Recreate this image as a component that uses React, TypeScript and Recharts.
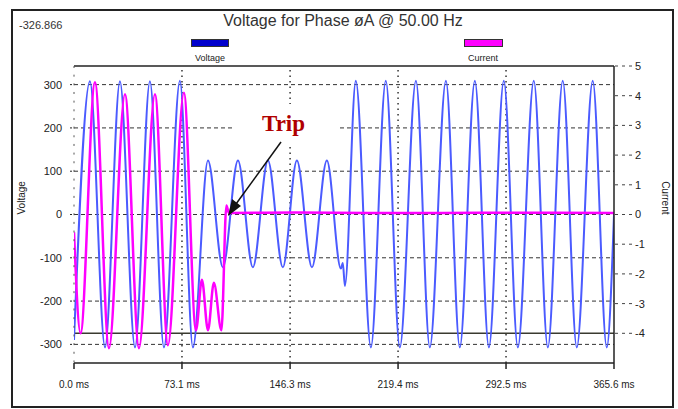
import { Line, LineChart, ReferenceLine, XAxis, YAxis } from "recharts";

// axis ticks
const timeTicks = [0, 73.1, 146.3, 219.4, 292.5, 365.6];
const voltageTicks = [-300, -200, -100, 0, 100, 200, 300];
const currentTicks = [-4, -3, -2, -1, 0, 1, 2, 3, 4, 5];

// voltage waveform, peaks and troughs (ms, V)
const voltageTime = [
  0, 10.8, 21.0, 31.1, 41.3, 51.4, 60.9, 71.7, 80.5, 90.7, 100.8, 111.0, 121.1, 131.3, 141.4,
  150.9, 161.1, 171.2, 180.7, 182.0, 183.4, 190.8, 201.0, 211.1, 220.6, 231.5, 240.9, 251.8,
  261.2, 271.4, 280.9, 291.0, 300.5, 311.3, 320.8, 330.9, 340.4, 351.2, 360.7, 365.6,
];
const voltageValue = [
  -290, 308, -307, 308, -307, 308, -307, 309, -307, 125, -122, 125, -122, 125, -122,
  125, -122, 125, -125, -112, -165, 309, -307, 309, -307, 309, -307, 309,
  -307, 309, -307, 309, -307, 309, -307, 309, -307, 309, -307, 0,
];

// current waveform (ms, A)
const currentTime = [
  0, 4.4, 14.2, 23.7, 34.5, 44.0, 54.8, 63.6, 74.4, 82.6, 86.6, 90.7, 94.7, 99.8, 103.2,
  104.9, 150, 200, 250, 300, 365.6,
];
const currentValue = [
  -0.6, -4.0, 4.45, -4.5, 4.05, -4.5, 4.05, -4.4, 4.1, -3.9, -2.2, -3.9, -2.3, -3.9, 0.3,
  0.05, 0.07, 0.05, 0.05, 0.06, 0.05,
];

const voltageData = voltageTime.map((t, i) => ({ t, v: voltageValue[i] }));
const currentData = currentTime.map((t, i) => ({ t, a: currentValue[i] }));

const font = "'Liberation Sans', Arial, sans-serif";
const ink = "#222";

export default function App() {
  return (
    <div
      style={{
        position: "absolute",
        left: 0,
        top: 0,
        width: 678,
        height: 409,
        background: "#fff",
        fontFamily: font,
        color: ink,
      }}
    >
      <div
        style={{
          position: "absolute",
          left: 11,
          top: 9,
          width: 659,
          height: 395,
          border: "2px solid #222",
        }}
      />
      <div style={{ position: "absolute", left: 19, top: 19, fontSize: 11, color: "#333" }}>-326.866</div>
      <div
        style={{
          position: "absolute",
          left: 0,
          width: 686,
          top: 12,
          textAlign: "center",
          fontSize: 16,
          color: "#333",
        }}
      >
        Voltage for Phase øA @ 50.00 Hz
      </div>

      {/* legend */}
      <div style={{ position: "absolute", left: 191, top: 39, width: 36, height: 6, background: "#0000cc", border: "1px solid #333" }} />
      <div style={{ position: "absolute", left: 180, width: 60, top: 53, textAlign: "center", fontSize: 9 }}>Voltage</div>
      <div style={{ position: "absolute", left: 464, top: 39, width: 37, height: 6, background: "#ff00ff", border: "1px solid #333" }} />
      <div style={{ position: "absolute", left: 453, width: 60, top: 53, textAlign: "center", fontSize: 9 }}>Current</div>

      <div style={{ position: "absolute", left: 0, top: 0 }}>
        <LineChart width={678} height={409} margin={{ top: 66, right: 24, bottom: 16, left: 34 }}>
          <XAxis
            xAxisId="x"
            type="number"
            dataKey="t"
            domain={[0, 365.6]}
            ticks={timeTicks}
            interval={0}
            allowDataOverflow
            tickFormatter={(v: number) => `${v.toFixed(1)} ms`}
            height={30}
            axisLine={{ stroke: ink, strokeWidth: 1.5 }}
            tickLine={{ stroke: ink, strokeWidth: 1.5 }}
            tickSize={6}
            tickMargin={12}
            tick={{ fontSize: 10, fill: ink, fontFamily: font }}
          />
          <YAxis
            yAxisId="v"
            domain={[-343, 343]}
            ticks={voltageTicks}
            interval={0}
            allowDataOverflow
            width={40}
            axisLine={{ stroke: "#555", strokeDasharray: "2 6.66" }}
            tickLine={{ stroke: ink, strokeDasharray: "2 2" }}
            tickSize={4}
            tickMargin={8}
            tick={{ fontSize: 11, fill: ink, fontFamily: font }}
            label={{ value: "Voltage", angle: -90, position: "insideLeft", offset: -13, fontSize: 10, fill: ink }}
          />
          <YAxis
            yAxisId="i"
            orientation="right"
            domain={[-5, 5]}
            ticks={currentTicks}
            interval={0}
            allowDataOverflow
            width={40}
            axisLine={{ stroke: ink, strokeWidth: 1.5 }}
            tickLine={{ stroke: "#444", strokeDasharray: "3 4" }}
            tickSize={18}
            tickMargin={3}
            tick={{ fontSize: 11, fill: ink, fontFamily: font }}
            label={{ value: "Current", angle: 90, position: "insideRight", offset: -12, fontSize: 10, fill: ink }}
          />

          {voltageTicks.map((v) => (
            <ReferenceLine key={`h${v}`} xAxisId="x" yAxisId="v" y={v} stroke="#333" strokeDasharray="4 3" />
          ))}
          {timeTicks.slice(1, -1).map((t) => (
            <ReferenceLine key={`v${t}`} xAxisId="x" yAxisId="v" x={t} stroke="#333" strokeDasharray="1.5 4" strokeWidth={1.5} />
          ))}
          <ReferenceLine xAxisId="x" yAxisId="v" y={343} stroke={ink} strokeWidth={1.5} />
          <ReferenceLine xAxisId="x" yAxisId="i" y={-4} stroke="#3a3a30" strokeWidth={1.5} />

          <Line
            xAxisId="x"
            yAxisId="v"
            data={voltageData}
            dataKey="v"
            type="monotone"
            stroke="#4b5bff"
            strokeWidth={2}
            dot={false}
            isAnimationActive={false}
          />
          <Line
            xAxisId="x"
            yAxisId="i"
            data={currentData}
            dataKey="a"
            type="monotone"
            stroke="#ff00ff"
            strokeWidth={2.5}
            dot={false}
            isAnimationActive={false}
          />
        </LineChart>
      </div>

      {/* trip annotation */}
      <svg width={678} height={409} style={{ position: "absolute", left: 0, top: 0, pointerEvents: "none" }}>
        <rect x={233} y={104} width={105} height={43} fill="#fff" />
        <text
          x={262}
          y={131}
          fontFamily="'Liberation Serif', 'Times New Roman', serif"
          fontWeight="bold"
          fontSize={23}
          fill="#b00000"
        >
          Trip
        </text>
        <line x1={281} y1={142} x2={236} y2={204} stroke="#111" strokeWidth={1.5} />
        <polygon points="228,216 232,199 241,206" fill="#111" />
      </svg>
    </div>
  );
}
